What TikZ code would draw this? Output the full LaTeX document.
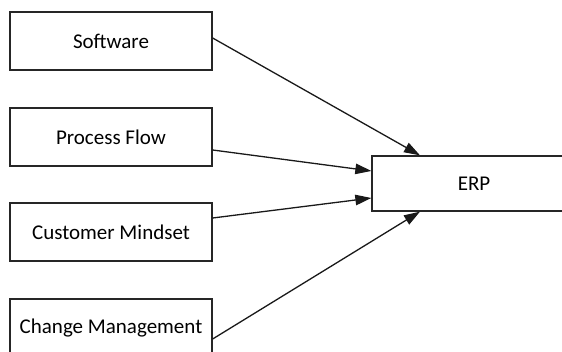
\documentclass[tikz,border=0pt]{standalone}
\usepackage{fontspec}
\setmainfont{Carlito}
\usetikzlibrary{arrows.meta}
\begin{document}
\begin{tikzpicture}[x=1pt,y=1pt,
  box/.style={draw=black!85, line width=1.3pt, minimum width=202pt, minimum height=58pt, inner sep=0pt, font=\fontsize{21}{24}\selectfont},
  arr/.style={draw=black!90, line width=1.3pt, -{Triangle[length=16pt,width=10.5pt]}}]
\useasboundingbox (0,0) rectangle (562,-352);
\node[box] (sw) at (111,-41) {Software};
\node[box] (pf) at (111,-137) {Process Flow};
\node[box] (cm) at (111,-232) {Customer Mindset};
\node[box] (chg) at (111,-328) {Change Management};
\node[box, minimum width=204pt, minimum height=55pt] (erp) at (474,-183.5) {ERP};
\draw[arr] ([yshift=3pt]sw.east) -- ([xshift=-54pt]erp.north);
\draw[arr] ([yshift=-13pt]pf.east) -- ([yshift=12.5pt]erp.west);
\draw[arr] ([yshift=14pt]cm.east) -- ([yshift=-14.5pt]erp.west);
\draw[arr] ([yshift=-11pt]chg.east) -- ([xshift=-54pt]erp.south);
\end{tikzpicture}
\end{document}
